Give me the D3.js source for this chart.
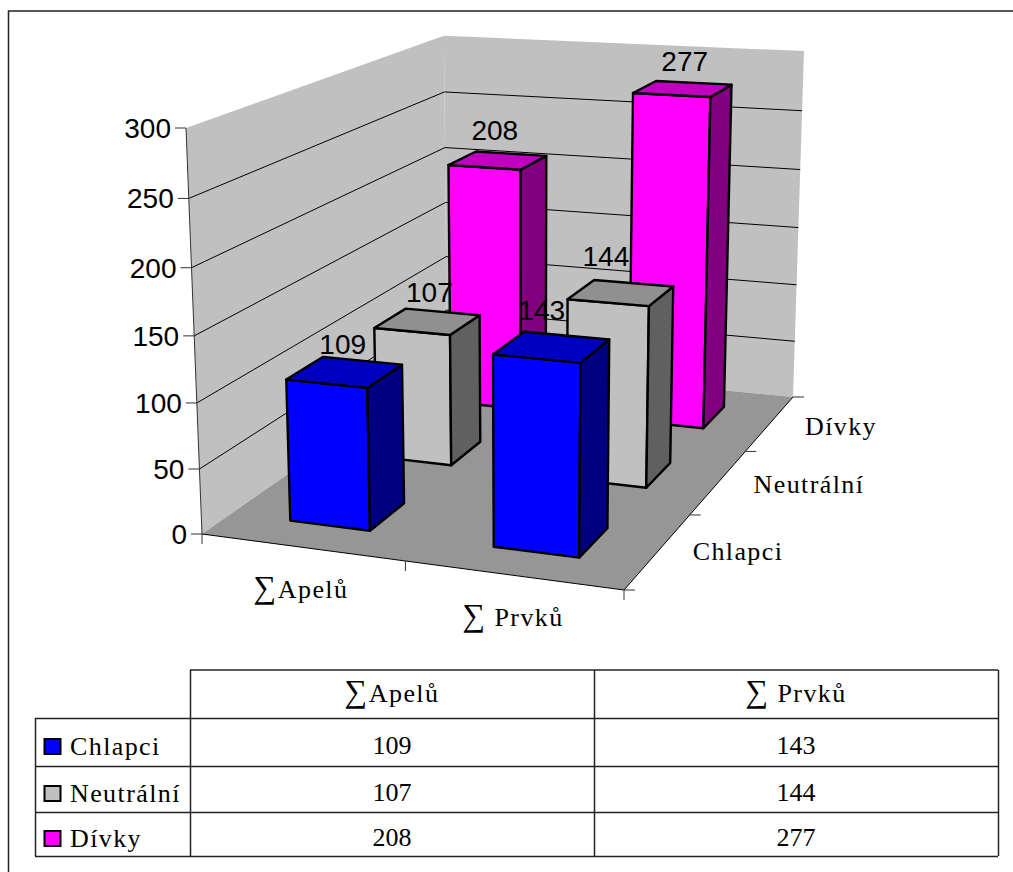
<!DOCTYPE html>
<html>
<head>
<meta charset="utf-8">
<script src="https://cdnjs.cloudflare.com/ajax/libs/d3/7.8.5/d3.min.js"></script>
<style>
    html, body { margin: 0; padding: 0; background: #fff; }
    svg { display: block; }
    .sans { font-family: "Liberation Sans", Arial, sans-serif; font-size: 28px; fill: #000; }
    .serif { font-family: "Liberation Serif", "Times New Roman", serif; font-size: 26px; fill: #000; }
</style>
</head>
<body>
<div id="chart"></div>
<script>
const categories = ['∑Apelů', '∑ Prvků'];
const seriesNames = ['Chlapci', 'Neutrální', 'Dívky'];
const chlapci = [109, 143];
const neutralni = [107, 144];
const divky = [208, 277];
const valueMax = 300;

const seriesValues = [chlapci, neutralni, divky];
const faceColors = [
    {front: '#0000ff', top: '#0000c0', side: '#000080'},
    {front: '#c0c0c0', top: '#909090', side: '#606060'},
    {front: '#ff00ff', top: '#c000c0', side: '#800080'}
];

const svg = d3.select('#chart').append('svg').attr('width', 1013).attr('height', 872);

// chart frame
svg.append('path').attr('d', 'M8.5,872V11H1013').attr('fill', 'none').attr('stroke', '#222').attr('stroke-width', 1.5);

// box corners on screen, the cube is mapped on them with a perspective matrix
const floorFL = [202, 534], floorFR = [624, 590], floorBR = [793, 397], floorBL = [447, 363];
const topFL = [186, 128], topBR = [804, 52];

function floorMatrix(p0, p1, p2, p3) {
    const dx1 = p1[0] - p2[0], dx2 = p3[0] - p2[0], sx = p0[0] - p1[0] + p2[0] - p3[0];
    const dy1 = p1[1] - p2[1], dy2 = p3[1] - p2[1], sy = p0[1] - p1[1] + p2[1] - p3[1];
    const den = dx1 * dy2 - dx2 * dy1;
    const g = (sx * dy2 - dx2 * sy) / den;
    const h = (dx1 * sy - sx * dy1) / den;
    return {
        a: p1[0] - p0[0] + g * p1[0], b: p3[0] - p0[0] + h * p3[0], c: p0[0],
        d: p1[1] - p0[1] + g * p1[1], e: p3[1] - p0[1] + h * p3[1], f: p0[1],
        g: g, h: h
    };
}
const m = floorMatrix(floorFL, floorFR, floorBR, floorBL);
const W = m.g + m.h + 1;
const Nx = m.a + m.b + m.c;
const cz = (Nx - m.c + topFL[0] - topBR[0] * W) / (topBR[0] - topFL[0]);
const cx = topFL[0] * (1 + cz) - m.c;
const cy = topFL[1] * (1 + cz) - m.f;

// u along categories, v into the depth, w up
function project(u, v, w) {
    const q = m.g * u + m.h * v + 1 + cz * w;
    return [
        (m.a * u + m.b * v + m.c + cx * w) / q,
        (m.d * u + m.e * v + m.f + cy * w) / q
    ];
}

const gap = 0.6;
const uScale = d3.scaleBand().domain(categories).range([0, 1]).paddingInner(gap).paddingOuter(gap / 2);
const vScale = d3.scaleBand().domain(seriesNames).range([0, 1]).paddingInner(gap).paddingOuter(gap / 2);
const wScale = d3.scaleLinear().domain([0, valueMax]).range([0, 1]);
const yTicks = wScale.ticks(6);

const line = d3.line();
function poly(points, fill, stroke, width) {
    return svg.append('path')
        .attr('d', line(points) + 'Z')
        .attr('fill', fill)
        .attr('stroke', stroke || 'none')
        .attr('stroke-width', width || 1)
        .attr('stroke-linejoin', 'round');
}
function seg(a, b, color, width) {
    svg.append('path').attr('d', line([a, b]))
        .attr('fill', 'none').attr('stroke', color).attr('stroke-width', width || 1);
}
// serif label with the larger sum sign of the original
function serifLabel(x, y, anchor, txt) {
    const t = svg.append('text').attr('class', 'serif')
        .attr('x', x).attr('y', y).attr('text-anchor', anchor).style('letter-spacing', '1.4px');
    if (txt[0] === '∑') {
        t.append('tspan').style('font-size', '32px').text('∑');
        t.append('tspan').text(txt.slice(1));
    } else {
        t.text(txt);
    }
}

// walls and floor
poly([project(0, 0, 0), project(0, 1, 0), project(0, 1, 1), project(0, 0, 1)], '#c0c0c0');
poly([project(0, 1, 0), project(1, 1, 0), project(1, 1, 1), project(0, 1, 1)], '#c0c0c0');
poly([project(0, 0, 0), project(1, 0, 0), project(1, 1, 0), project(0, 1, 0)], '#969696');

// gridlines
yTicks.filter(d => d > 0 && d < valueMax).forEach(d => {
    const w = wScale(d);
    seg(project(0, 0, w), project(0, 1, w), '#000');
    seg(project(0, 1, w), project(1, 1, w), '#000');
});

// value axis
seg(project(0, 0, 0), project(0, 0, 1), '#333');
yTicks.forEach(d => {
    const p = project(0, 0, wScale(d));
    seg([p[0] - 11, p[1]], p, '#333');
    svg.append('text').attr('class', 'sans')
        .attr('x', p[0] - 15).attr('y', p[1] + 10)
        .attr('text-anchor', 'end').text(d);
});

// floor edges and ticks
seg(project(0, 0, 0), project(1, 0, 0), '#000');
seg(project(1, 0, 0), project(1, 1, 0), '#000');
d3.range(categories.length + 1).forEach(i => {
    const p = project(i / categories.length, 0, 0);
    seg(p, [p[0], p[1] + 10], '#333');
});
d3.range(seriesNames.length + 1).forEach(i => {
    const p = project(1, i / seriesNames.length, 0);
    seg(p, [p[0] + 11, p[1]], '#333');
});

// bars, back row first. the nudge moves the value labels where the original has them
const labelNudge = [[[-2, 0], [-10, -9]], [[2, -2], [-15, -9]], [[-3, -2], [2, 0]]];
d3.range(seriesNames.length - 1, -1, -1).forEach(s => {
    const v0 = vScale(seriesNames[s]), v1 = v0 + vScale.bandwidth();
    const c = faceColors[s];
    const labels = [];
    categories.forEach((cat, i) => {
        const u0 = uScale(cat), u1 = u0 + uScale.bandwidth();
        const h = wScale(seriesValues[s][i]);
        const t = project((u0 + u1) / 2, (v0 + v1) / 2, h);
        svg.append('text').attr('class', 'sans')
            .attr('x', t[0] + labelNudge[s][i][0]).attr('y', t[1] - 18 + labelNudge[s][i][1])
            .attr('text-anchor', 'middle').text(seriesValues[s][i]);
        poly([project(u0, v0, 0), project(u1, v0, 0), project(u1, v0, h), project(u0, v0, h)], c.front, '#000', 2.4);
        poly([project(u1, v0, 0), project(u1, v1, 0), project(u1, v1, h), project(u1, v0, h)], c.side, '#000', 2.4);
        poly([project(u0, v0, h), project(u1, v0, h), project(u1, v1, h), project(u0, v1, h)], c.top, '#000', 2.4);
    });
});

// category labels
const catLabelPos = [[301, 598], [513, 626]];
categories.forEach((cat, i) => serifLabel(catLabelPos[i][0], catLabelPos[i][1], 'middle', cat));
const serLabelPos = [[738, 560], [809, 493], [841, 435]];
seriesNames.forEach((name, i) => serifLabel(serLabelPos[i][0], serLabelPos[i][1], 'middle', name));

// data table
const colX = d3.scaleBand().domain(categories).range([190, 998]);
const rowY = [718, 766, 812, 856];
const tableLeft = 35, tableTop = 670;
const tableLine = '#222', tableWidth = 1.5;

seg([190, tableTop], [998, tableTop], tableLine, tableWidth);
rowY.forEach(y => seg([tableLeft, y + 0.5], [998, y + 0.5], tableLine, tableWidth));
seg([tableLeft + 0.5, 718], [tableLeft + 0.5, 856], tableLine, tableWidth);
seg([190.5, tableTop], [190.5, 856], tableLine, tableWidth);
seg([colX(categories[1]) + 0.5, tableTop], [colX(categories[1]) + 0.5, 856], tableLine, tableWidth);
seg([998.5, tableTop], [998.5, 856], tableLine, tableWidth);

categories.forEach(cat => serifLabel(colX(cat) + colX.bandwidth() / 2, 702, 'middle', cat));
seriesNames.forEach((name, s) => {
    const mid = (rowY[s] + rowY[s + 1]) / 2;
    svg.append('rect')
        .attr('x', 44.5).attr('y', mid - 3).attr('width', 16).attr('height', 15)
        .attr('fill', faceColors[s].front).attr('stroke', '#000').attr('stroke-width', 2);
    serifLabel(70, mid + 13, 'start', name);
    categories.forEach((cat, i) => {
        svg.append('text').attr('class', 'serif')
            .attr('x', colX(cat) + colX.bandwidth() / 2).attr('y', mid + 12)
            .attr('text-anchor', 'middle').text(seriesValues[s][i]);
    });
});
</script>
</body>
</html>
